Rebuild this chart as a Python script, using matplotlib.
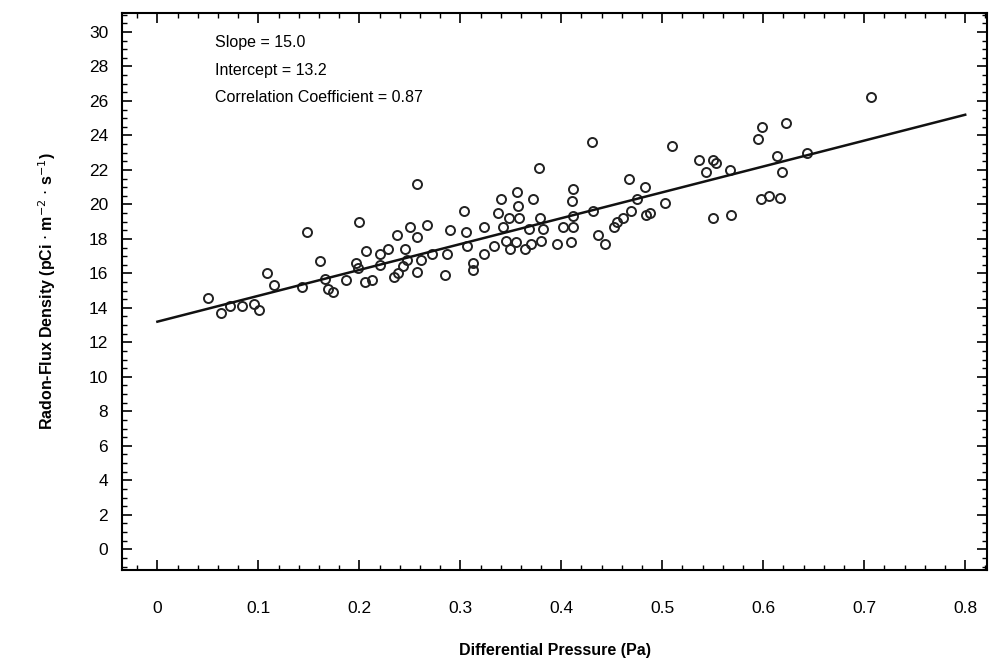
import numpy as np
import matplotlib
matplotlib.use("Agg")
from matplotlib import pyplot as plt
from matplotlib.ticker import MultipleLocator

# differential pressure (Pa) and radon flux density
pressure = [0.050, 0.063, 0.072, 0.084, 0.096, 0.101, 0.109, 0.115, 0.143, 0.148,
            0.257, 0.200, 0.161, 0.166, 0.169, 0.174, 0.187, 0.197, 0.207, 0.199,
            0.206, 0.213, 0.220, 0.220, 0.228, 0.237, 0.245, 0.247, 0.243, 0.234,
            0.238, 0.250, 0.257, 0.261, 0.257, 0.267, 0.272, 0.285, 0.287, 0.290,
            0.304, 0.306, 0.307, 0.313, 0.313,
            0.430, 0.378, 0.467, 0.412, 0.411, 0.356, 0.372, 0.340, 0.357, 0.337,
            0.348, 0.358, 0.379, 0.323, 0.342, 0.368, 0.382, 0.402, 0.412, 0.412,
            0.431, 0.333, 0.345, 0.349, 0.355, 0.364, 0.370, 0.380, 0.396, 0.410,
            0.323, 0.436, 0.443, 0.452, 0.455, 0.461, 0.469, 0.475,
            0.707, 0.599, 0.623, 0.595, 0.510, 0.536, 0.550, 0.553, 0.543, 0.567,
            0.614, 0.643, 0.619, 0.483, 0.503, 0.484, 0.488, 0.550, 0.568, 0.598,
            0.606, 0.617]
flux = [14.6, 13.7, 14.1, 14.1, 14.2, 13.9, 16.0, 15.3, 15.2, 18.4,
        21.2, 19.0, 16.7, 15.7, 15.1, 14.9, 15.6, 16.6, 17.3, 16.3,
        15.5, 15.6, 16.5, 17.1, 17.4, 18.2, 17.4, 16.8, 16.4, 15.8,
        16.0, 18.7, 18.1, 16.8, 16.1, 18.8, 17.1, 15.9, 17.1, 18.5,
        19.6, 18.4, 17.6, 16.6, 16.2,
        23.6, 22.1, 21.5, 20.9, 20.2, 20.7, 20.3, 20.3, 19.9, 19.5,
        19.2, 19.2, 19.2, 18.7, 18.7, 18.6, 18.6, 18.7, 18.7, 19.3,
        19.6, 17.6, 17.9, 17.4, 17.8, 17.4, 17.7, 17.9, 17.7, 17.8,
        17.1, 18.2, 17.7, 18.7, 19.0, 19.2, 19.6, 20.3,
        26.2, 24.5, 24.7, 23.8, 23.4, 22.6, 22.6, 22.4, 21.9, 22.0,
        22.8, 23.0, 21.9, 21.0, 20.1, 19.4, 19.5, 19.2, 19.4, 20.3,
        20.5, 20.4]

slope = 15.0
intercept = 13.2
corr = 0.87
fit_x = [0.0, 0.8]

plt.rcParams['font.family'] = ['Liberation Sans', 'DejaVu Sans']

fig = plt.figure(figsize=(9.89, 6.6), dpi=100)
ax = fig.add_axes([0.1234, 0.1364, 0.875, 0.8439])

ax.plot(pressure, flux, 'o', mfc='none', mec='#222222', ms=6.5, mew=1.4)
fx = np.array(fit_x)
ax.plot(fx, intercept + slope * fx, '-', color='#111111', lw=1.8)

ax.set_xlim(-0.035, 0.822)
ax.set_ylim(-1.2, 31.1)
ax.xaxis.set_major_locator(MultipleLocator(0.1))
ax.xaxis.set_minor_locator(MultipleLocator(0.02))
ax.yaxis.set_major_locator(MultipleLocator(2))
ax.yaxis.set_minor_locator(MultipleLocator(0.5))
ax.set_xticks(np.arange(0, 0.81, 0.1))
ax.set_xticklabels(['0', '0.1', '0.2', '0.3', '0.4', '0.5', '0.6', '0.7', '0.8'])
ax.set_yticks(np.arange(0, 31, 2))

ax.tick_params(which='both', direction='in', top=True, right=True, labelsize=12.5)
ax.tick_params(which='major', length=7, width=1.2)
ax.tick_params(which='minor', length=3.5, width=1)
ax.tick_params(axis='x', pad=22)
ax.tick_params(axis='y', pad=10)
for s in ax.spines.values():
    s.set_linewidth(1.5)

ax.set_xlabel('Differential Pressure (Pa)', fontsize=11.5, fontweight='bold', labelpad=20)
ax.set_ylabel(r'Radon-Flux Density (pCi $\cdot$ m$^{-2}$ $\cdot$ s$^{-1}$)',
              fontsize=11.5, fontweight='bold', labelpad=22)

ax.text(0.057, 29.4, 'Slope = %.1f' % slope, fontsize=11.5, va='center')
ax.text(0.057, 27.75, 'Intercept = %.1f' % intercept, fontsize=11.5, va='center')
ax.text(0.057, 26.2, 'Correlation Coefficient = %.2f' % corr, fontsize=11.5, va='center')

fig.savefig('out.png', dpi=100)
